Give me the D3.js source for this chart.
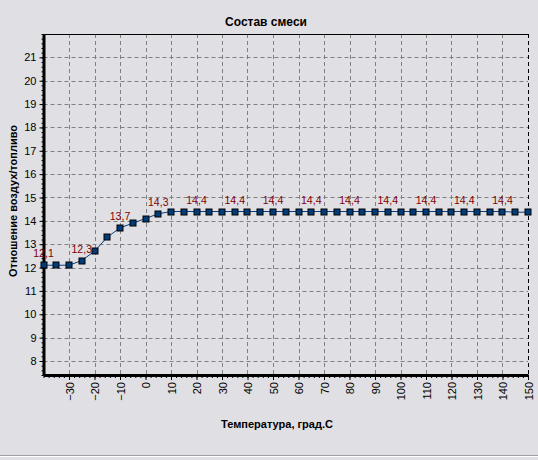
<!DOCTYPE html>
<html>
<head>
<meta charset="utf-8">
<script src="https://cdn.jsdelivr.net/npm/d3@7"></script>
<style>
  body { margin: 0; background: #e0dfe3; }
  svg { display: block; font-family: Arial, "Liberation Sans", sans-serif; }
</style>
</head>
<body>
<div class="chart"></div>
<script>
var width = 538, height = 460;
var plot = {left: 43.5, right: 528, top: 34, bottom: 375};

// temperature, grad C
var temps = [-40, -35, -30, -25, -20, -15, -10, -5, 0, 5, 10, 15, 20, 25, 30, 35, 40,
  45, 50, 55, 60, 65, 70, 75, 80, 85, 90, 95, 100, 105, 110, 115, 120, 125, 130,
  135, 140, 145, 150];
// air / fuel ratio
var ratios = [12.1, 12.1, 12.1, 12.3, 12.7, 13.3, 13.7, 13.9, 14.1, 14.3, 14.4, 14.4,
  14.4, 14.4, 14.4, 14.4, 14.4, 14.4, 14.4, 14.4, 14.4, 14.4, 14.4, 14.4, 14.4, 14.4,
  14.4, 14.4, 14.4, 14.4, 14.4, 14.4, 14.4, 14.4, 14.4, 14.4, 14.4, 14.37, 14.37];
var labelledTemps = [-40, -25, -10, 5, 20, 35, 50, 65, 80, 95, 110, 125, 140];
var xTicks = [-30, -20, -10, 0, 10, 20, 30, 40, 50, 60, 70, 80, 90, 100, 110, 120, 130, 140, 150];
var yTicks = [8, 9, 10, 11, 12, 13, 14, 15, 16, 17, 18, 19, 20, 21];

var data = temps.map((t, i) => ({t: t, v: ratios[i]}));

var svg = d3.select('.chart')
  .append('svg')
  .attr('width', width)
  .attr('height', height);

svg.append('rect')
  .attr('width', width).attr('height', height)
  .style('fill', '#e0dfe3');

// bottom status line
svg.append('line')
  .attr('x1', 0).attr('x2', width).attr('y1', 455.5).attr('y2', 455.5)
  .style('stroke', '#a0a0a0');
svg.append('line')
  .attr('x1', 0).attr('x2', width).attr('y1', 456.5).attr('y2', 456.5)
  .style('stroke', '#ffffff');

let x = d3.scaleLinear()
  .domain([-40, 150])
  .range([plot.left, plot.right]);

let y = d3.scaleLinear()
  .domain([7.4, 22])
  .range([plot.bottom, plot.top]);

//grid
let grid = svg.append('g');
grid.selectAll('.vg')
  .data(xTicks.filter(d => d < 150))
  .enter()
  .append('line')
  .attr('x1', d => Math.round(x(d)) + 0.5)
  .attr('x2', d => Math.round(x(d)) + 0.5)
  .attr('y1', plot.top)
  .attr('y2', plot.bottom)
  .style('stroke', '#808080')
  .style('stroke-dasharray', '4,3');

grid.selectAll('.hg')
  .data(yTicks)
  .enter()
  .append('line')
  .attr('x1', plot.left)
  .attr('x2', plot.right)
  .attr('y1', d => Math.round(y(d)) + 0.5)
  .attr('y2', d => Math.round(y(d)) + 0.5)
  .style('stroke', '#808080')
  .style('stroke-dasharray', '4,3');

// frame: solid top, dashed right
svg.append('line')
  .attr('x1', plot.left).attr('x2', plot.right)
  .attr('y1', plot.top + 0.5).attr('y2', plot.top + 0.5)
  .style('stroke', '#000');
svg.append('line')
  .attr('x1', plot.right + 0.5).attr('x2', plot.right + 0.5)
  .attr('y1', plot.top).attr('y2', plot.bottom)
  .style('stroke', '#000')
  .style('stroke-dasharray', '4,3');

// minor ticks
let yMinor = d3.range(74, 221, 2).map(d => d / 10);
svg.append('g')
  .attr('transform', `translate(${plot.left}, 0)`)
  .call(d3.axisLeft(y).tickValues(yMinor).tickSize(2).tickFormat(''))
  .call(g => g.select('.domain').remove());

let xMinor = d3.range(-40, 151, 2);
svg.append('g')
  .attr('transform', `translate(0, ${plot.bottom})`)
  .call(d3.axisBottom(x).tickValues(xMinor).tickSize(3).tickFormat(''))
  .call(g => g.select('.domain').remove());

// y axis
let yAxis = svg.append('g')
  .attr('transform', `translate(${plot.left}, 0)`)
  .call(d3.axisLeft(y).tickValues(yTicks).tickSize(4).tickPadding(3).tickSizeOuter(0));
yAxis.select('.domain').style('stroke-width', 3);
yAxis.selectAll('text').style('font-size', '11px').style('fill', '#000');

// x axis
let xAxis = svg.append('g')
  .attr('transform', `translate(0, ${plot.bottom})`)
  .call(d3.axisBottom(x).tickValues(xTicks).tickSize(5).tickSizeOuter(0));
xAxis.select('.domain').style('stroke-width', 3);
xAxis.selectAll('text')
  .style('font-size', '11px')
  .style('fill', '#000')
  .attr('text-anchor', 'end')
  .attr('dy', null)
  .attr('y', 0)
  .attr('transform', 'translate(4, 7) rotate(-90)');

// line + markers
svg.append('path')
  .datum(data)
  .attr('d', d3.line().x(d => x(d.t)).y(d => y(d.v)))
  .style('fill', 'none')
  .style('stroke', '#0a3f7f')
  .style('stroke-width', 1);

svg.selectAll('.pt')
  .data(data)
  .enter()
  .append('rect')
  .attr('x', d => Math.round(x(d.t)) - 3)
  .attr('y', d => Math.round(y(d.v)) - 3)
  .attr('width', 6)
  .attr('height', 6)
  .style('fill', '#003c78')
  .style('stroke', '#000')
  .style('stroke-width', 1);

svg.selectAll('.lbl')
  .data(data.filter(d => labelledTemps.includes(d.t)))
  .enter()
  .append('text')
  .attr('x', d => x(d.t))
  .attr('y', d => y(d.v) - 8)
  .style('text-anchor', 'middle')
  .style('font-size', '10.5px')
  .style('fill', '#800000')
  .text(d => d3.format('.1f')(d.v).replace('.', ','));

// titles
svg.append('text')
  .attr('x', 266).attr('y', 26)
  .style('text-anchor', 'middle')
  .style('font-size', '12px')
  .style('font-weight', 'bold')
  .text('Состав смеси');

svg.append('text')
  .attr('x', 277).attr('y', 428)
  .style('text-anchor', 'middle')
  .style('font-size', '11px')
  .style('font-weight', 'bold')
  .text('Температура, град.С');

svg.append('text')
  .attr('transform', 'translate(17, 201) rotate(-90)')
  .style('text-anchor', 'middle')
  .style('font-size', '11px')
  .style('font-weight', 'bold')
  .text('Отношение воздух/топливо');
</script>
</body>
</html>
